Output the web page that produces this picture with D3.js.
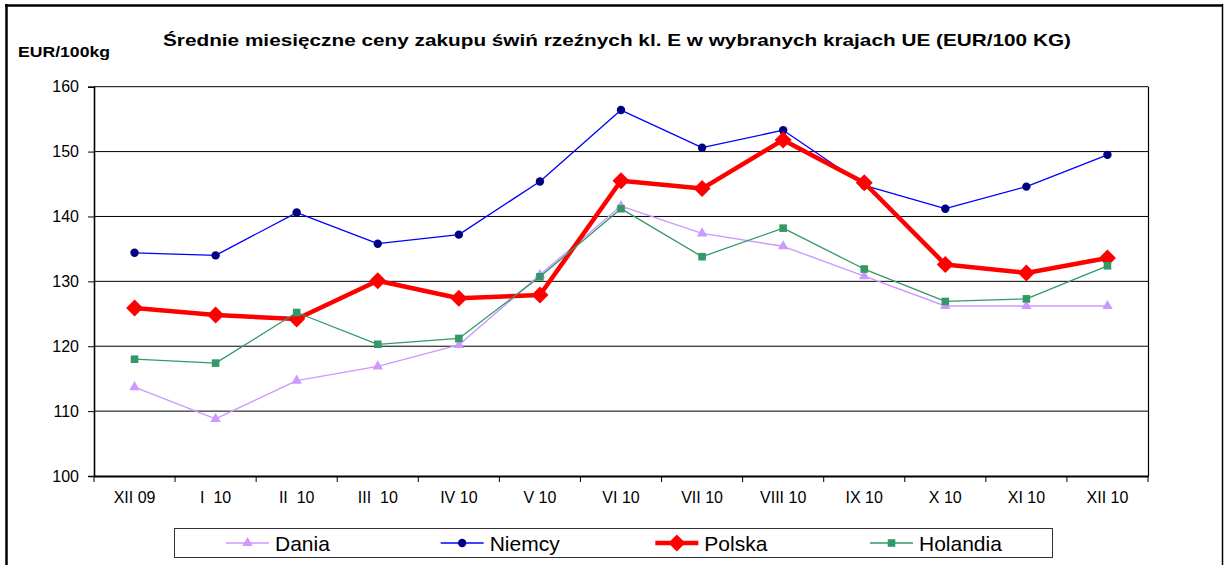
<!DOCTYPE html>
<html><head><meta charset="utf-8">
<script src="https://cdn.jsdelivr.net/npm/d3@7"></script>
<style>
html,body{margin:0;padding:0;background:#fff;}
svg{display:block;font-family:"Liberation Sans",Arial,sans-serif;}
</style></head>
<body><svg id="c" width="1225" height="565"></svg>
<script>
const categories = ["XII 09","I  10","II  10","III  10","IV 10","V 10","VI 10","VII 10","VIII 10","IX 10","X 10","XI 10","XII 10"];
const dania    = [113.7,108.8,114.7,116.9,120.2,131.0,141.6,137.4,135.4,130.8,126.2,126.2,126.2];
const niemcy   = [134.4,134.0,140.6,135.8,137.2,145.4,156.4,150.6,153.3,144.8,141.2,144.6,149.5];
const polska   = [125.9,124.8,124.2,130.1,127.4,127.9,145.5,144.3,151.8,145.2,132.6,131.3,133.6];
const holandia = [118.0,117.4,125.2,120.3,121.2,130.7,141.2,133.8,138.2,131.9,126.9,127.3,132.4];
const seriesNames = ["Dania","Niemcy","Polska","Holandia"];
const yTicks = [100,110,120,130,140,150,160];
const title = "Średnie miesięczne ceny zakupu świń rzeźnych kl. E w wybranych krajach UE (EUR/100 KG)";
const yUnit = "EUR/100kg";

const series = [
  {name:seriesNames[0], values:dania,    line:"#CC99FF", mark:"#CC99FF", lw:1.4, shape:"tri"},
  {name:seriesNames[1], values:niemcy,   line:"#0000FF", mark:"#000080", lw:1.3, shape:"circ"},
  {name:seriesNames[2], values:polska,   line:"#FF0000", mark:"#FF0000", lw:4.5, shape:"diam"},
  {name:seriesNames[3], values:holandia, line:"#339966", mark:"#339966", lw:1.3, shape:"sq"}
];

const svg = d3.select("#c");
svg.append("rect").attr("width",1225).attr("height",565).attr("fill","#fff");

// outer border
svg.append("line").attr("x1",6.5).attr("x2",6.5).attr("y1",4).attr("y2",565).attr("stroke","#000").attr("stroke-width",2.5);
svg.append("line").attr("x1",5).attr("x2",1223).attr("y1",5.5).attr("y2",5.5).attr("stroke","#000").attr("stroke-width",2.5);
svg.append("line").attr("x1",1222.5).attr("x2",1222.5).attr("y1",4).attr("y2",565).attr("stroke","#000").attr("stroke-width",1.5);

const L=94, R=1148, T=86.7, B=476;
const x = d3.scaleBand().domain(categories).range([L,R]).paddingInner(0).paddingOuter(0);
const y = d3.scaleLinear().domain([100,160]).range([B,T]);
const cx = c => x(c)+x.bandwidth()/2;

// gridlines
const g = svg.append("g");
g.selectAll("line.grid").data(yTicks.filter(t=>t>100)).enter().append("line")
  .attr("x1",L).attr("x2",R).attr("y1",d=>y(d)).attr("y2",d=>y(d))
  .attr("stroke","#000").attr("stroke-width",1);
// right frame
g.append("line").attr("x1",R+0.5).attr("x2",R+0.5).attr("y1",T).attr("y2",B).attr("stroke","#000").attr("stroke-width",1.2);

// y axis
const ya = svg.append("g").attr("transform",`translate(${L},0)`)
  .call(d3.axisLeft(y).tickValues(yTicks).tickSize(6).tickPadding(9).tickFormat(d3.format("d")));
ya.select(".domain").attr("stroke","#000").attr("stroke-width",1.6);
ya.selectAll(".tick line").attr("stroke","#000");
ya.selectAll("text").attr("font-size",16).attr("font-family","Liberation Sans, Arial, sans-serif").attr("fill","#000");

// x axis
const xa = svg.append("g").attr("transform",`translate(0,${B})`)
  .call(d3.axisBottom(x).tickSize(0).tickPadding(15));
xa.select(".domain").attr("stroke","#000").attr("stroke-width",1.8);
xa.selectAll("text").attr("font-size",16).attr("font-family","Liberation Sans, Arial, sans-serif").attr("fill","#000").style("white-space","pre").attr("dy","0.75em");
// boundary ticks
const bounds = categories.map(c=>x(c)).concat([R]);
svg.append("g").selectAll("line").data(bounds).enter().append("line")
  .attr("x1",d=>d).attr("x2",d=>d).attr("y1",B).attr("y2",B+6).attr("stroke","#000").attr("stroke-width",1);

// markers
function drawMarker(sel, shape, color){
  if(shape==="tri") sel.append("path").attr("d",d3.symbol().type(d3.symbolTriangle).size(48)()).attr("fill",color);
  else if(shape==="circ") sel.append("circle").attr("r",4.2).attr("fill",color);
  else if(shape==="diam") sel.append("path").attr("d","M0,-8.5L8.5,0L0,8.5L-8.5,0Z").attr("fill",color);
  else if(shape==="sq") sel.append("rect").attr("x",-3.8).attr("y",-3.8).attr("width",7.6).attr("height",7.6).attr("fill",color);
}

const line = d3.line().x((d,i)=>cx(categories[i])).y(d=>y(d));
series.forEach(s=>{
  const sg = svg.append("g");
  sg.append("path").attr("d",line(s.values)).attr("fill","none").attr("stroke",s.line).attr("stroke-width",s.lw).attr("stroke-linejoin","round");
  s.values.forEach((v,i)=>{
    const m = sg.append("g").attr("transform",`translate(${cx(categories[i])},${y(v)})`);
    drawMarker(m, s.shape, s.mark);
  });
});

// title
svg.append("text").attr("x",617).attr("y",46).attr("text-anchor","middle")
  .attr("font-weight","bold").attr("font-size",17).attr("textLength",908).attr("lengthAdjust","spacingAndGlyphs")
  .attr("fill","#000").text(title);
svg.append("text").attr("x",18).attr("y",57)
  .attr("font-weight","bold").attr("font-size",14).attr("textLength",92).attr("lengthAdjust","spacingAndGlyphs")
  .attr("fill","#000").text(yUnit);

// legend
const lg = svg.append("g");
lg.append("rect").attr("x",174.5).attr("y",528.5).attr("width",878).attr("height",29).attr("fill","#fff").attr("stroke","#333").attr("stroke-width",1);
const lx = d3.scalePoint().domain(seriesNames).range([226,870]);
series.forEach(s=>{
  const x0 = lx(s.name);
  const it = lg.append("g").attr("transform",`translate(${x0},543)`);
  it.append("line").attr("x1",0).attr("x2",43).attr("y1",0).attr("y2",0).attr("stroke",s.line).attr("stroke-width",s.lw);
  const m = it.append("g").attr("transform","translate(21.5,0)");
  drawMarker(m, s.shape, s.mark);
  it.append("text").attr("x",49).attr("y",7.5).attr("font-size",21).attr("fill","#000").text(s.name);
});
</script></body></html>
